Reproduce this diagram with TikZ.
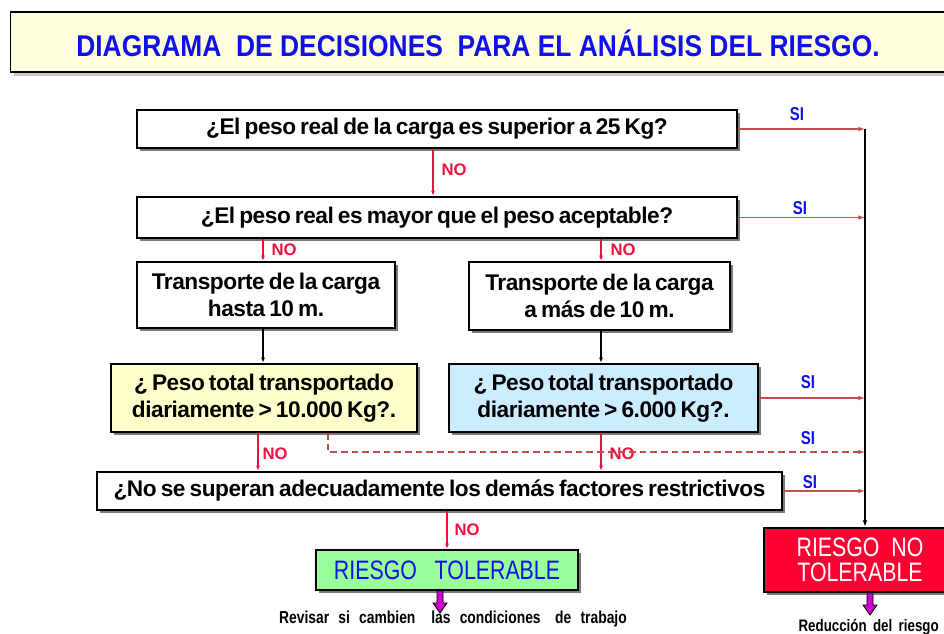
\documentclass[tikz,border=0pt]{standalone}
\usepackage{fontspec}
\setmainfont{Liberation Sans}
\newfontfamily\narrowfont[FakeStretch=0.8]{Liberation Sans}
\newfontfamily\titlefont[FakeStretch=0.88]{Liberation Sans}
\newfontfamily\tightfont[LetterSpace=-2, WordSpace=0.7]{Liberation Sans}
\usetikzlibrary{shadows,calc,arrows.meta}
\definecolor{titlefill}{HTML}{FFFFE0}
\definecolor{yelfill}{HTML}{FFFFCC}
\definecolor{bluefill}{HTML}{CCECFF}
\definecolor{greenfill}{HTML}{99FF99}
\definecolor{redfill}{HTML}{FF0033}
\definecolor{nored}{HTML}{F0103C}
\definecolor{sired}{HTML}{C0504D}
\definecolor{txtblue}{HTML}{1010E8}
\definecolor{fatmag}{HTML}{CC00CC}
\begin{document}
\begin{tikzpicture}[x=0.75pt,y=-0.75pt,
  box/.style={draw=black, line width=1.6pt, fill=white,
    drop shadow={shadow xshift=2pt, shadow yshift=-2pt, fill=black!65, opacity=0.8},
    align=center, inner sep=0pt,
    font=\tightfont\bfseries\fontsize{17}{20.5}\selectfont},
  noarr/.style={draw=nored, line width=0.9pt, -{Latex[length=4pt,width=3pt]}},
  siarr/.style={draw=sired, line width=0.8pt, -{Latex[length=5pt,width=3.5pt]}},
  nolab/.style={text=nored, font=\bfseries\fontsize{12.5}{14}\selectfont, inner sep=0pt},
  silab/.style={text=txtblue, font=\narrowfont\bfseries\fontsize{14}{15}\selectfont, inner sep=0pt},
  fatarrow/.style={draw=black, line width=0.6pt, fill=fatmag}]
\useasboundingbox (0,0) rectangle (944,633);
\clip (0,0) rectangle (944,633);
\fill[white] (0,0) rectangle (944,633);

% title
\node[draw=black, line width=1.2pt, fill=titlefill,
  drop shadow={shadow xshift=3pt, shadow yshift=-3pt, fill=black!30, opacity=0.7},
  minimum width=712pt, minimum height=45pt, inner sep=0pt] (title) at (485,42) {};
\node[text=txtblue, font=\titlefont\bfseries\fontsize{22.5}{26}\selectfont, inner sep=0pt] (titletext) at (478,43)
  {DIAGRAMA\ \ DE DECISIONES\ \ PARA EL ANÁLISIS DEL RIESGO.};

% boxes
\node[box, minimum width=450pt, minimum height=28.5pt] (b1) at (437,129)
  {¿El peso real de la carga es superior a 25 Kg?};
\node[box, minimum width=450pt, minimum height=30.75pt] (b2) at (437,217.5)
  {¿El peso real es mayor que el peso aceptable?};
\node[box, minimum width=193.5pt, minimum height=49.5pt] (b3) at (266,295)
  {Transporte de la carga\\hasta 10 m.};
\node[box, minimum width=195.75pt, minimum height=51pt] (b4) at (599.5,296)
  {Transporte de la carga\\a más de 10 m.};
\node[box, fill=yelfill, minimum width=229.5pt, minimum height=51pt] (b5) at (264,398)
  {¿ Peso total transportado\\diariamente > 10.000 Kg?.};
\node[box, fill=bluefill, minimum width=231.75pt, minimum height=51pt] (b6) at (603.5,398)
  {¿ Peso total transportado\\diariamente > 6.000 Kg?.};
\node[box, minimum width=513.75pt, minimum height=28.5pt] (b7) at (439.5,491)
  {¿No se superan adecuadamente los demás factores restrictivos};
\node[box, fill=greenfill, text=txtblue, minimum width=196.5pt, minimum height=30pt,
  font=\narrowfont\fontsize{20}{22}\selectfont] (b8) at (447,570)
  {RIESGO\ \ \ TOLERABLE};
\node[box, fill=redfill, text=white, minimum width=144pt, minimum height=48pt,
  font=\narrowfont\fontsize{20}{19}\selectfont] (b9) at (860,560)
  {RIESGO\ \ NO\\TOLERABLE};

% column coordinates
\coordinate (c0) at (433,0);
\coordinate (c1) at (263,0);
\coordinate (c2) at (601,0);
\coordinate (c3) at (258,0);
\coordinate (c4) at (447,0);
\coordinate (cd) at (328,0);
\coordinate (rx) at (865,0);
\coordinate (dy) at (0,452);

% NO arrows
\draw[noarr] (b1.south -| c0) -- (b2.north -| c0);
\draw[noarr] (b2.south -| c1) -- (b3.north -| c1);
\draw[noarr] (b2.south -| c2) -- (b4.north -| c2);
\draw[noarr] (b5.south -| c3) -- (b7.north -| c3);
\draw[noarr] (b6.south -| c2) -- (b7.north -| c2);
\draw[noarr] (b7.south -| c4) -- (b8.north -| c4);
\node[nolab] (no1) at (454,170) {NO};
\node[nolab] (no2) at (284,250) {NO};
\node[nolab] (no3) at (623,250) {NO};
\node[nolab] (no4) at (275,454) {NO};
\node[nolab] (no5) at (622,454) {NO};
\node[nolab] (no6) at (467,530) {NO};

% black arrows
\draw[line width=0.8pt, -{Latex[length=4pt,width=3pt]}] (b3.south -| c1) -- (b5.north -| c1);
\draw[line width=0.8pt, -{Latex[length=4pt,width=3pt]}] (b4.south -| c2) -- (b6.north -| c2);

% right bus
\draw[line width=1pt, -{Latex[length=5pt,width=3.5pt]}] (b1.east -| rx) -- (b9.north -| rx);

% SI arrows
\draw[siarr] (b1.east) -- (b1.east -| rx);
\draw[siarr] (b2.east) -- (b2.east -| rx);
\draw[siarr] (b6.east) -- (b6.east -| rx);
\draw[siarr, dashed, dash pattern=on 5pt off 3pt] (b5.south -| cd) -- (dy -| cd) -- (dy -| rx);
\draw[siarr] (b7.east) -- (b7.east -| rx);
\node[silab] (si1) at (797,114) {SI};
\node[silab] (si2) at (800,208) {SI};
\node[silab] (si3) at (808,382) {SI};
\node[silab] (si4) at (808,438) {SI};
\node[silab] (si5) at (810,482) {SI};

% fat arrows
\coordinate (fa1) at (440,591);
\coordinate (fa2) at (870,593);
\draw[fatarrow] ($(fa1)+(-3,0)$) -- ($(fa1)+(3,0)$) -- ($(fa1)+(3,12)$) -- ($(fa1)+(7,12)$)
  -- ($(fa1)+(0,22)$) -- ($(fa1)+(-7,12)$) -- ($(fa1)+(-3,12)$) -- cycle;
\draw[fatarrow] ($(fa2)+(-3,0)$) -- ($(fa2)+(3,0)$) -- ($(fa2)+(3,12)$) -- ($(fa2)+(7,12)$)
  -- ($(fa2)+(0,22)$) -- ($(fa2)+(-7,12)$) -- ($(fa2)+(-3,12)$) -- cycle;

\node[font=\narrowfont\bfseries\fontsize{13}{14}\selectfont, inner sep=0pt] (t1) at (453,619)
  {Revisar\hspace{4pt} si\hspace{4pt} cambien\hspace{9pt} las\hspace{4pt} condiciones\hspace{8pt} de\hspace{4pt} trabajo};
\node[font=\narrowfont\bfseries\fontsize{12.5}{14}\selectfont, inner sep=0pt, anchor=east] (t2) at (939,627)
  {Reducción\hspace{2pt} del\hspace{2pt} riesgo};
\end{tikzpicture}
\end{document}
